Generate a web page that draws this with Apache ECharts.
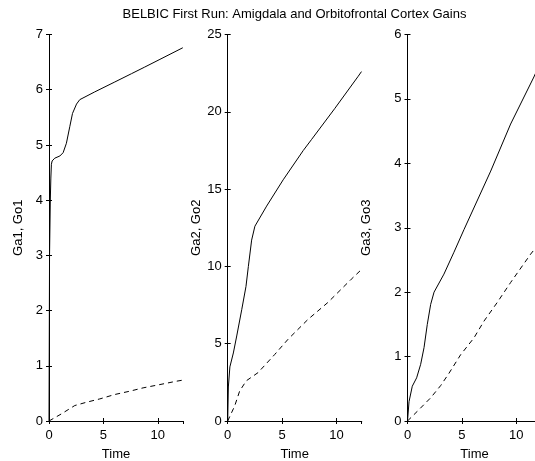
<!DOCTYPE html>
<html>
<head>
<meta charset="utf-8">
<script src="https://cdn.jsdelivr.net/npm/echarts@6/dist/echarts.min.js"></script>
<style>
  html, body { margin: 0; padding: 0; background: #fff; }
  #chart { width: 535px; height: 461px; }
</style>
</head>
<body>
<div id="chart"></div>
<script>
// values
const titleText = 'BELBIC First Run: Amigdala and Orbitofrontal Cortex Gains'
const yNames = ['Ga1, Go1', 'Ga2, Go2', 'Ga3, Go3']
const yMax = [7, 25, 6]
const yStep = [1, 5, 1]
const xMax = 12.32

const tGa1 = [0, 0.05, 0.12, 0.17, 0.22, 0.29, 0.53, 1.0, 1.3, 1.6, 1.91, 2.16, 2.53, 2.83, 4.2, 6.05, 7.58, 8.8, 10.2, 12.3]
const ga1 = [0, 3.0, 4.0, 4.4, 4.65, 4.71, 4.76, 4.80, 4.86, 5.03, 5.33, 5.57, 5.74, 5.82, 5.96, 6.14, 6.29, 6.41, 6.55, 6.76]
const tGo1 = [0, 1.15, 2.37, 3.45, 4.67, 6.05, 7.43, 8.65, 10.2, 11.7, 12.3]
const go1 = [0, 0.13, 0.28, 0.34, 0.40, 0.48, 0.54, 0.60, 0.66, 0.72, 0.74]

const tGa2 = [0, 0.06, 0.2, 0.52, 0.83, 1.29, 1.68, 1.9, 2.2, 2.5, 3.58, 5.1, 6.95, 7.7, 9.83, 12.0, 12.3]
const ga2 = [0, 2.2, 3.5, 4.4, 5.5, 7.2, 8.7, 10.0, 11.7, 12.6, 13.9, 15.6, 17.5, 18.2, 20.2, 22.3, 22.6]
const tGo2 = [0, 0.18, 0.64, 1.1, 1.71, 2.79, 4.32, 5.54, 7.38, 9.2, 11.36, 12.3]
const go2 = [0, 0.1, 0.97, 1.94, 2.6, 3.13, 4.3, 5.28, 6.57, 7.66, 9.17, 9.8]

const tGa3 = [0, 0.14, 0.44, 0.84, 1.21, 1.52, 1.82, 2.13, 2.44, 3.35, 4.27, 5.19, 7.65, 9.48, 11.62, 12.3]
const ga3 = [0, 0.3, 0.54, 0.67, 0.88, 1.14, 1.5, 1.81, 2.0, 2.28, 2.62, 2.97, 3.88, 4.61, 5.34, 5.6]
const tGo3 = [0, 0.9, 2.13, 3.05, 3.81, 4.89, 6.11, 7.03, 8.25, 9.48, 11.32, 12.3]
const go3 = [0, 0.15, 0.36, 0.55, 0.74, 1.03, 1.29, 1.55, 1.84, 2.15, 2.59, 2.8]

const solid = [[tGa1, ga1], [tGa2, ga2], [tGa3, ga3]]
const dashed = [[tGo1, go1], [tGo2, go2], [tGo3, go3]]

const font = 'Liberation Sans, Arial, sans-serif'
const gridLeft = [49, 227.7, 407.5]
const yNameGap = [24, 22, 35]

function zip(t, v) {
	return t.map((x, i) => [x, v[i]])
}

const grids = []
const xAxes = []
const yAxes = []
const series = []

gridLeft.forEach((left, i) => {
	// the third panel runs past the right edge of the picture
	grids.push({ left: left, top: 34.5, width: 134, height: 386.5, containLabel: false, outerBoundsMode: 'none' })

	const line = { show: true, lineStyle: { color: '#000', width: 1 } }
	const tick = { show: true, inside: true, length: 3, lineStyle: { color: '#000' } }

	// bottom + top x axes (box)
	xAxes.push({
		type: 'value', gridIndex: i, min: 0, max: xMax, interval: 5,
		axisLine: line, axisTick: tick, splitLine: { show: false },
		axisLabel: { color: '#000', fontSize: 13, fontFamily: font, margin: 8, showMaxLabel: false },
		name: 'Time', nameLocation: 'middle', nameGap: 27,
		nameTextStyle: { color: '#000', fontSize: 13, fontFamily: font }
	})
	xAxes.push({
		type: 'value', gridIndex: i, position: 'top', min: 0, max: xMax, interval: 5,
		axisLine: line, axisTick: tick, splitLine: { show: false }, axisLabel: { show: false }
	})
	// left + right y axes
	yAxes.push({
		type: 'value', gridIndex: i, min: 0, max: yMax[i], interval: yStep[i],
		axisLine: line, axisTick: tick, splitLine: { show: false },
		axisLabel: { color: '#000', fontSize: 13, fontFamily: font, margin: 6 },
		name: yNames[i], nameLocation: 'middle', nameGap: yNameGap[i],
		nameTextStyle: { color: '#000', fontSize: 13, fontFamily: font }
	})
	yAxes.push({
		type: 'value', gridIndex: i, position: 'right', min: 0, max: yMax[i], interval: yStep[i],
		axisLine: line, axisTick: tick, splitLine: { show: false }, axisLabel: { show: false }
	})

	series.push({
		type: 'line', xAxisIndex: i * 2, yAxisIndex: i * 2,
		data: zip(solid[i][0], solid[i][1]), showSymbol: false, smooth: false,
		lineStyle: { color: '#000', width: 1 }, silent: true, animation: false
	})
	series.push({
		type: 'line', xAxisIndex: i * 2, yAxisIndex: i * 2,
		data: zip(dashed[i][0], dashed[i][1]), showSymbol: false, smooth: false,
		lineStyle: { color: '#000', width: 1, type: [5, 4] }, silent: true, animation: false
	})
})

const myChart = echarts.init(document.getElementById('chart'), null, { renderer: 'canvas' })
myChart.setOption({
	backgroundColor: '#fff',
	animation: false,
	title: {
		text: titleText, left: 289.5, top: 3, textAlign: 'center',
		textStyle: { color: '#000', fontSize: 13, fontWeight: 'normal', fontFamily: font }
	},
	grid: grids,
	xAxis: xAxes,
	yAxis: yAxes,
	series: series
})
</script>
</body>
</html>
